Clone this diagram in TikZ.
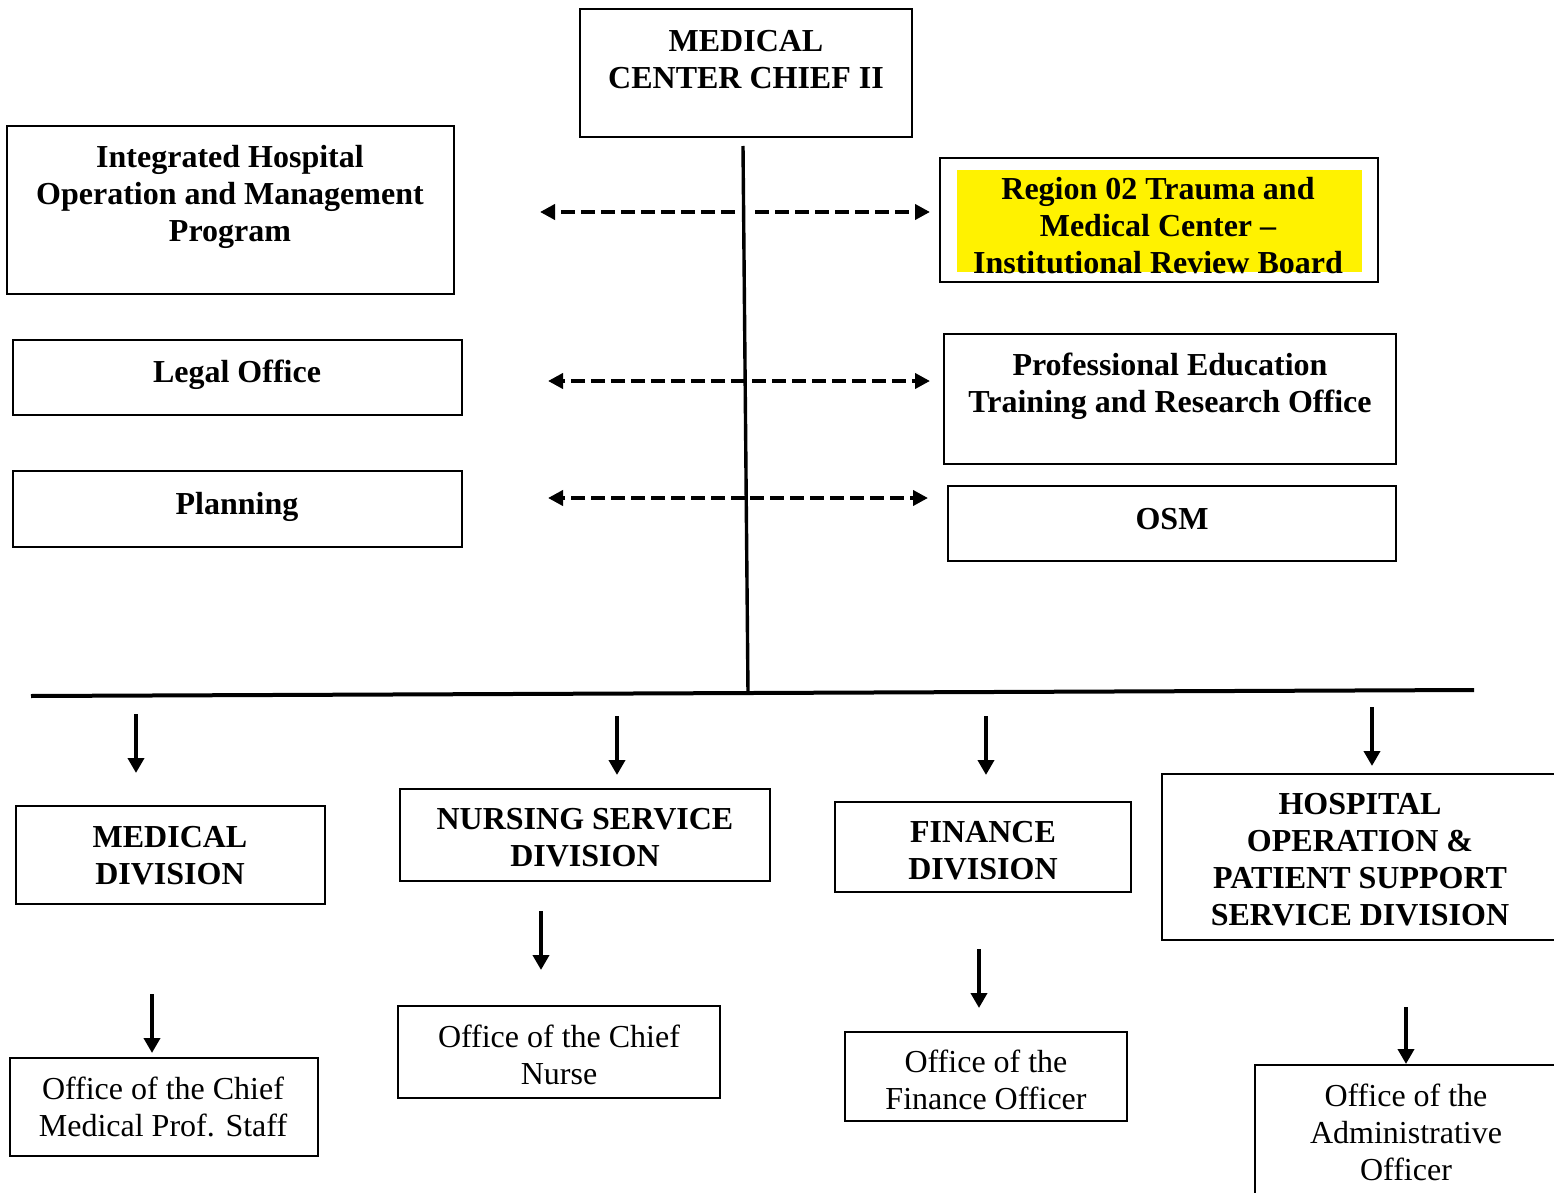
\documentclass[tikz,border=0pt]{standalone}
\usepackage{fontspec}
\setmainfont{Liberation Serif}
\usetikzlibrary{arrows.meta}

\begin{document}
\begin{tikzpicture}[x=0.5pt, y=-0.5pt,
	frame/.style={line width=1pt},
	trunk/.style={line width=1.7pt},
	link/.style={line width=1.9pt, dash pattern=on 7pt off 3pt, -{Triangle[length=7.5pt,width=7.5pt]}},
	down/.style={line width=1.9pt, -{Triangle[length=7.5pt,width=8pt]}},
	head/.style={font=\fontsize{16}{18.5}\selectfont\bfseries, align=center, inner sep=0pt},
	plain/.style={font=\fontsize{16}{18.5}\selectfont, align=center, inner sep=0pt}]
			%%%%% START %%%%%
			\useasboundingbox (0, 0) rectangle (1554, 1193);
			
			% chief
			\draw[frame] (580, 9) rectangle (912, 137);
			\node[head] (mcc) at (746, 60) {MEDICAL\\CENTER CHIEF II};
			
			% staff offices
			\draw[frame] (7, 126) rectangle (454, 294);
			\node[head] (ihomp) at (230, 197) {Integrated Hospital\\Operation and Management\\Program};
			
			\draw[frame] (940, 158) rectangle (1378, 282);
			\fill[yellow] (957, 170) rectangle (1362, 272);
			\node[head] (irb) at (1158, 226) {Region 02 Trauma and\\Medical Center --\\Institutional Review Board};
			
			\draw[frame] (13, 340) rectangle (462, 415);
			\node[head] (legal) at (237, 375) {Legal Office};
			
			\draw[frame] (944, 334) rectangle (1396, 464);
			\node[head] (petro) at (1170, 386) {Professional Education\\Training and Research Office};
			
			\draw[frame] (13, 471) rectangle (462, 547);
			\node[head] (planning) at (237, 507) {Planning};
			
			\draw[frame] (948, 486) rectangle (1396, 561);
			\node[head] (osm) at (1172, 519) {OSM};
			
			% trunk lines
			\coordinate (trunk-top) at (743, 146);
			\coordinate (trunk-foot) at (748, 693);
			\coordinate (bus-left) at (31, 696);
			\coordinate (bus-right) at (1474, 690);
			\draw[trunk] (trunk-top) -- (trunk-foot);
			\draw[line width=2pt] (bus-left) -- (bus-right);
			
			% staff links
			\coordinate (ihomp-l) at (735, 212);
			\coordinate (ihomp-tip) at (540, 212);
			\coordinate (irb-l) at (755, 212);
			\coordinate (irb-tip) at (930, 212);
			\draw[link] (ihomp-l) -- (ihomp-tip);
			\draw[link] (irb-l) -- (irb-tip);
			
			\coordinate (legal-l) at (745, 381);
			\coordinate (legal-tip) at (548, 381);
			\coordinate (petro-l) at (752, 381);
			\coordinate (petro-tip) at (930, 381);
			\draw[link] (legal-l) -- (legal-tip);
			\draw[link] (petro-l) -- (petro-tip);
			
			\coordinate (planning-l) at (745, 498);
			\coordinate (planning-tip) at (548, 498);
			\coordinate (osm-l) at (750, 498);
			\coordinate (osm-tip) at (928, 498);
			\draw[link] (planning-l) -- (planning-tip);
			\draw[link] (osm-l) -- (osm-tip);
			
			% divisions
			\draw[frame] (16, 806) rectangle (325, 904);
			\node[head] (meddiv) at (170, 856) {MEDICAL\\DIVISION};
			
			\draw[frame] (400, 789) rectangle (770, 881);
			\node[head] (nsd) at (585, 838) {NURSING SERVICE\\DIVISION};
			
			\draw[frame] (835, 802) rectangle (1131, 892);
			\node[head] (findiv) at (983, 851) {FINANCE\\DIVISION};
			
			\draw[frame] (1162, 774) rectangle (1560, 940);
			\node[head] (hopss) at (1360, 860) {HOSPITAL\\OPERATION \&\\PATIENT SUPPORT\\SERVICE DIVISION};
			
			% offices
			\draw[frame] (10, 1058) rectangle (318, 1156);
			\node[plain] (ocmps) at (163, 1107) {Office of the Chief\\Medical Prof. Staff};
			
			\draw[frame] (398, 1006) rectangle (720, 1098);
			\node[plain] (ocn) at (559, 1055) {Office of the Chief\\Nurse};
			
			\draw[frame] (845, 1032) rectangle (1127, 1121);
			\node[plain] (ofo) at (986, 1080) {Office of the\\Finance Officer};
			
			\draw[frame] (1255, 1065) rectangle (1560, 1200);
			\node[plain] (oao) at (1406, 1132) {Office of the\\Administrative\\Officer};
			
			% down arrows
			\coordinate (meddiv-from) at (136, 714);
			\coordinate (meddiv-to) at (136, 773);
			\coordinate (nsd-from) at (617, 716);
			\coordinate (nsd-to) at (617, 775);
			\coordinate (findiv-from) at (986, 716);
			\coordinate (findiv-to) at (986, 775);
			\coordinate (hopss-from) at (1372, 707);
			\coordinate (hopss-to) at (1372, 766);
			\draw[down] (meddiv-from) -- (meddiv-to);
			\draw[down] (nsd-from) -- (nsd-to);
			\draw[down] (findiv-from) -- (findiv-to);
			\draw[down] (hopss-from) -- (hopss-to);
			
			\coordinate (ocmps-from) at (152, 994);
			\coordinate (ocmps-to) at (152, 1053);
			\coordinate (ocn-from) at (541, 911);
			\coordinate (ocn-to) at (541, 970);
			\coordinate (ofo-from) at (979, 949);
			\coordinate (ofo-to) at (979, 1008);
			\coordinate (oao-from) at (1406, 1007);
			\coordinate (oao-to) at (1406, 1064);
			\draw[down] (ocmps-from) -- (ocmps-to);
			\draw[down] (ocn-from) -- (ocn-to);
			\draw[down] (ofo-from) -- (ofo-to);
			\draw[down] (oao-from) -- (oao-to);
			
			%%%%% END %%%%%
\end{tikzpicture}
\end{document}
